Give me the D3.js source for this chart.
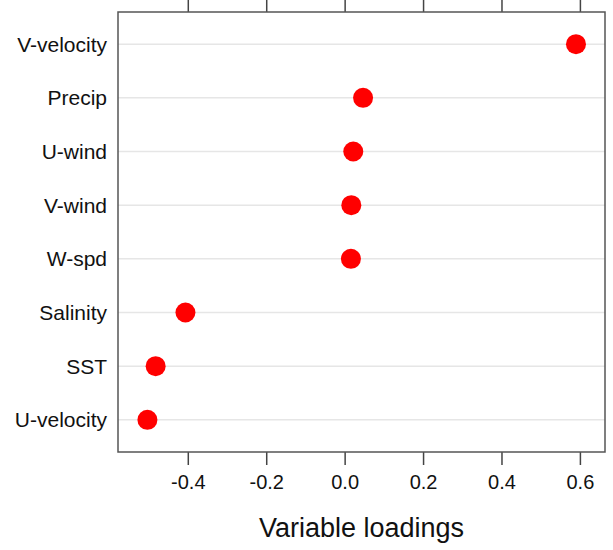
<!DOCTYPE html>
<html>
<head>
<meta charset="utf-8">
<script src="https://cdn.jsdelivr.net/npm/d3@7"></script>
<style>
  body { margin: 0; background: #fff; }
  text { font-family: "Liberation Sans", Arial, sans-serif; }
</style>
</head>
<body>
<div id="vizcontainer"></div>
<script>
// variables, top row first
var variables = ["V-velocity", "Precip", "U-wind", "V-wind", "W-spd", "Salinity", "SST", "U-velocity"];
var loadings = [0.590, 0.047, 0.022, 0.017, 0.016, -0.406, -0.482, -0.503];
var tickValues = [-0.4, -0.2, 0.0, 0.2, 0.4, 0.6];
var tickLabels = ["-0.4", "-0.2", "0.0", "0.2", "0.4", "0.6"];
var xTitle = "Variable loadings";

var wwidth = 613, hheight = 550;
var panel = {left: 118, right: 605, top: 12, bottom: 452};

var svg = d3.select("#vizcontainer").append("svg")
	.attr("width", wwidth)
	.attr("height", hheight);

var x = d3.scaleLinear().domain([-0.578, 0.664]).range([panel.left, panel.right]);
// lattice style: factor levels 1..n with 0.6 padding each side
var y = d3.scaleLinear().domain([0.4, variables.length + 0.6]).range([panel.top, panel.bottom]);

var rows = variables.map(function(v, i){ return {name: v, value: loadings[i], pos: i + 1}; });

// grid lines
svg.append("g").selectAll(".grid")
	.data(rows)
	.enter().append("line")
	.attr("class", "grid")
	.attr("x1", panel.left).attr("x2", panel.right)
	.attr("y1", function(d){ return y(d.pos); })
	.attr("y2", function(d){ return y(d.pos); })
	.attr("stroke", "#e6e6e6")
	.attr("stroke-width", 1.5);

// axes top and bottom
function styleAxis(g){
	g.select(".domain").remove();
	g.selectAll(".tick line").attr("stroke", "#444").attr("stroke-width", 1.5);
	g.selectAll(".tick text").attr("fill", "#111").style("font-size", "20px");
}
var fmt = function(d){ return tickLabels[tickValues.indexOf(d)]; };

svg.append("g")
	.attr("transform", "translate(0," + panel.bottom + ")")
	.call(d3.axisBottom(x).tickValues(tickValues).tickFormat(fmt).tickSize(13).tickPadding(10))
	.call(styleAxis);

svg.append("g")
	.attr("transform", "translate(0," + panel.top + ")")
	.call(d3.axisTop(x).tickValues(tickValues).tickFormat("").tickSize(13))
	.call(styleAxis);

// panel box
svg.append("rect")
	.attr("x", panel.left).attr("y", panel.top)
	.attr("width", panel.right - panel.left)
	.attr("height", panel.bottom - panel.top)
	.attr("fill", "none")
	.attr("stroke", "#555")
	.attr("stroke-width", 1.5);

// y labels
svg.append("g").selectAll(".label")
	.data(rows)
	.enter().append("text")
	.attr("class", "label")
	.attr("x", 107)
	.attr("y", function(d){ return y(d.pos); })
	.attr("dy", "0.36em")
	.attr("text-anchor", "end")
	.attr("fill", "#111")
	.style("font-size", "21px")
	.text(function(d){ return d.name; });

// points
svg.append("g").selectAll(".node")
	.data(rows)
	.enter().append("circle")
	.attr("class", "node")
	.attr("cx", function(d){ return x(d.value); })
	.attr("cy", function(d){ return y(d.pos); })
	.attr("r", 10)
	.attr("fill", "#ff0000");

// x title
svg.append("text")
	.attr("x", (panel.left + panel.right) / 2)
	.attr("y", 537)
	.attr("text-anchor", "middle")
	.attr("fill", "#111")
	.style("font-size", "27px")
	.text(xTitle);
</script>
</body>
</html>
